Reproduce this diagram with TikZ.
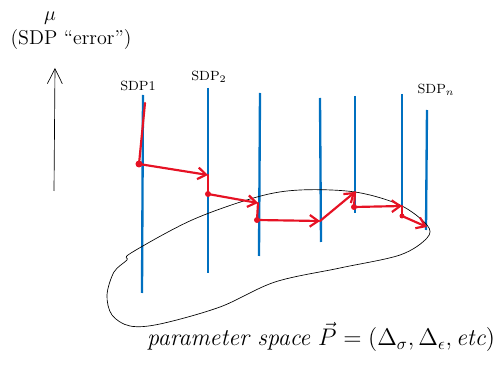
\documentclass[tikz,border=0pt]{standalone}
\usepackage{amsmath}
\usetikzlibrary{arrows.meta}
\begin{document}
\begin{tikzpicture}[x=0.6pt,y=-0.6pt]
  % Define colors
  \definecolor{sdpblue}{RGB}{0,112,192}
  \definecolor{pathred}{RGB}{230,18,36}
  \tikzset{
    sdpline/.style={sdpblue, line width=1.4pt},
    walk/.style={pathred, line width=1.3pt, line cap=round},
    hop/.style={walk, -{Straight Barb[length=5pt,width=7pt]}},
    hit/.style={pathred, fill=pathred}
  }
  \useasboundingbox (0,0) rectangle (503,371);

  % Axis
  \draw[thin, -{Straight Barb[length=9pt,width=9pt]}] (54,191) -- (55,68);
  \node[font=\large] (mu) at (50,18) {$\mu$};
  \node[font=\large] (err) at (71,40) {(SDP ``error'')};

  % SDP lines
  \draw[sdpline] (143,95) -- (142,293);
  \draw[sdpline] (208,88) -- (208,273);
  \draw[sdpline] (260,93) -- (259,256);
  \draw[sdpline] (320,98) -- (321,242);
  \draw[sdpline] (355,96) -- (355,213);
  \draw[sdpline] (402,94) -- (402,213);
  \draw[sdpline] (427,110) -- (426,230);

  % Labels
  \node[font=\footnotesize] (sdp1) at (138,86) {SDP1};
  \node[font=\footnotesize] (sdp2) at (209,77) {SDP$_2$};
  \node[font=\footnotesize] (sdpn) at (436,90) {SDP$_n$};

  % Parameter space
  \draw[thin] plot[smooth cycle, tension=0.55] coordinates {
    (192,220) (257,197) (300,190) (355,192) (400,205) (427,225)
    (427,238) (400,255) (340,268) (275,282) (220,307) (160,324)
    (130,326) (112,315) (107,295) (114,272) (127,260) (131,253)};
  \node[font=\Large] (space) at (321,337)
    {\textit{parameter space} $\vec{P}=(\Delta_\sigma,\Delta_\epsilon,\text{\textit{etc}})$};

  % Search path
  \coordinate (s1top) at (145,103);
  \coordinate (s1) at (139,164);
  \coordinate (a2) at (208,175);
  \coordinate (s2) at (208,194);
  \coordinate (a3) at (258,203);
  \coordinate (s3) at (257,220);
  \coordinate (a4) at (320,221);
  \coordinate (a5) at (355,192);
  \coordinate (s5) at (354,207);
  \coordinate (a6) at (402,206);
  \coordinate (s6) at (402,216);
  \coordinate (a7) at (427,227);

  \draw[walk] (s1top) -- (s1);
  \draw[hop] (s1) -- (a2);
  \draw[walk] (a2) -- (s2);
  \draw[hop] (s2) -- (a3);
  \draw[walk] (a3) -- (s3);
  \draw[hop] (s3) -- (a4);
  \draw[hop] (a4) -- (a5);
  \draw[walk] (a5) -- (s5);
  \draw[hop] (s5) -- (a6);
  \draw[walk] (a6) -- (s6);
  \draw[hop] (s6) -- (a7);

  \fill[hit] (s1) circle (3.5);
  \fill[hit] (s2) circle (3);
  \fill[hit] (s3) circle (3);
  \fill[hit] (s5) circle (3);
  \fill[hit] (s6) circle (2.5);
\end{tikzpicture}
\end{document}
